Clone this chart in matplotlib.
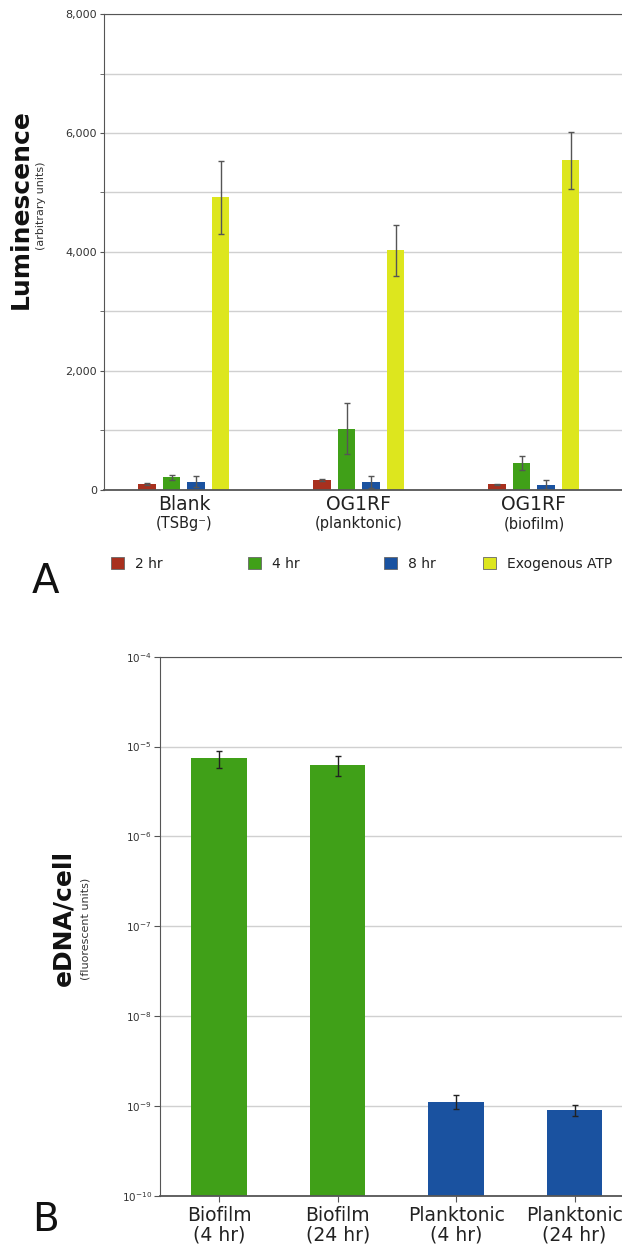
import matplotlib.pyplot as plt
from matplotlib.patches import Patch
from matplotlib.ticker import FixedLocator, FuncFormatter
import numpy as np

# panel A data
groups = ['Blank', 'OG1RF', 'OG1RF']
group_sub = ['(TSBg\u207b)', '(planktonic)', '(biofilm)']
series = ['2 hr', '4 hr', '8 hr', 'Exogenous ATP']
lum = {
    '2 hr': [95, 160, 85],
    '4 hr': [205, 1020, 445],
    '8 hr': [130, 120, 80],
    'Exogenous ATP': [4920, 4025, 5540],
}
lum_err = {
    '2 hr': [12, 15, 15],
    '4 hr': [40, 430, 120],
    '8 hr': [90, 100, 72],
    'Exogenous ATP': [615, 425, 475],
}

# panel B data
cats = ['Biofilm\n(4 hr)', 'Biofilm\n(24 hr)', 'Planktonic\n(4 hr)', 'Planktonic\n(24 hr)']
edna = [7.4e-6, 6.3e-6, 1.12e-9, 0.90e-9]
edna_err = [1.6e-6, 1.6e-6, 0.20e-9, 0.13e-9]

colors = {'2 hr': '#a8301e', '4 hr': '#40a018', '8 hr': '#1a52a0',
          'Exogenous ATP': '#dde61e'}
bcolors = ['#40a018', '#40a018', '#1a52a0', '#1a52a0']

W, H = 622, 1248
fig = plt.figure(figsize=(W / 100, H / 100), dpi=100)
plt.rcParams['font.family'] = 'DejaVu Sans'

def fx(px):
    return px / W

def fy(py):
    return 1 - py / H

spine_c = '#555555'
grid_c = '#d0d0d0'
text_c = '#333333'

# ---------- panel A ----------
axA = fig.add_axes([fx(104), fy(489.5), fx(640 - 104), (489.5 - 14.3) / H])
x = np.arange(len(groups))
offs = [-0.21, -0.07, 0.07, 0.21]
for s, o in zip(series, offs):
    axA.bar(x + o, lum[s], width=0.1, color=colors[s], zorder=2)
    axA.errorbar(x + o, lum[s], yerr=lum_err[s], fmt='none', ecolor='#555555',
                 elinewidth=1, capsize=2, capthick=1, zorder=3)

axA.set_xlim(-0.457, (640 - 184) / 175)
axA.set_ylim(0, 8000)
axA.yaxis.set_major_locator(FixedLocator([0, 2000, 4000, 6000, 8000]))
axA.yaxis.set_minor_locator(FixedLocator([1000, 3000, 5000, 7000]))
axA.yaxis.set_major_formatter(FuncFormatter(lambda v, p: '{:,}'.format(int(v))))
axA.grid(True, axis='y', which='both', color=grid_c, lw=1, zorder=0)
axA.set_axisbelow(True)
axA.tick_params(axis='y', which='both', length=3, color=spine_c,
                labelsize=8, labelcolor=text_c, pad=2)
axA.set_xticks(x)
axA.set_xticklabels(groups, fontsize=13.5, color='#222222')
axA.tick_params(axis='x', length=0, pad=4)
for i, sub in enumerate(group_sub):
    axA.text(x[i], -0.072, sub, transform=axA.get_xaxis_transform(),
             ha='center', va='center', fontsize=10.5, color='#222222')
axA.spines['right'].set_visible(False)
for sp in ['left', 'bottom', 'top']:
    axA.spines[sp].set_color(spine_c)
axA.spines['bottom'].set_linewidth(1.3)

fig.text(fx(21), fy(209), 'Luminescence', rotation=90, ha='center',
         va='center', fontsize=18, fontweight='bold', color='#111111')
fig.text(fx(41), fy(206), '(arbitrary units)', rotation=90, ha='center',
         va='center', fontsize=8, color=text_c)

# legend, one entry per slot
leg_x = [111, 248, 384, 483]
for s, lx in zip(series, leg_x):
    h = Patch(facecolor=colors[s], edgecolor='#666666', linewidth=0.6)
    fig.legend(handles=[h], labels=[s], loc='center left',
               bbox_to_anchor=(fx(lx), fy(564)), frameon=False, fontsize=10,
               handlelength=0.95, handleheight=0.95, handletextpad=0.8,
               borderpad=0, borderaxespad=0, labelcolor='#222222')

fig.text(fx(45), fy(582), 'A', ha='center', va='center', fontsize=29,
         color='#111111')

# ---------- panel B ----------
axB = fig.add_axes([fx(160), fy(1196), fx(640 - 160), (1196 - 656.7) / H])
xb = np.arange(len(cats))
axB.bar(xb, edna, width=0.47, color=bcolors, zorder=2)
axB.errorbar(xb, edna, yerr=edna_err, fmt='none', ecolor='#222222',
             elinewidth=1, capsize=2.5, capthick=1, zorder=3)
axB.set_yscale('log')
axB.set_ylim(1e-10, 1e-4)
axB.set_xlim(-0.5, (640 - 219) / 118.5)
axB.yaxis.set_major_locator(FixedLocator([10.0 ** k for k in range(-10, -3)]))
axB.yaxis.set_minor_locator(FixedLocator([]))
axB.yaxis.set_major_formatter(
    FuncFormatter(lambda v, p: r'$10^{%d}$' % int(round(np.log10(v)))))
axB.grid(True, axis='y', which='major', color=grid_c, lw=1, zorder=0)
axB.set_axisbelow(True)
axB.tick_params(axis='y', length=4, color=spine_c, labelsize=7.5,
                labelcolor=text_c, pad=2)
axB.set_xticks(xb)
axB.set_xticklabels(cats, fontsize=13.5, color='#222222', linespacing=1.05)
axB.tick_params(axis='x', length=4, color=spine_c, pad=3)
axB.spines['right'].set_visible(False)
for sp in ['left', 'bottom', 'top']:
    axB.spines[sp].set_color(spine_c)
axB.spines['bottom'].set_linewidth(1.3)

fig.text(fx(63), fy(918), 'eDNA/cell', rotation=90, ha='center',
         va='center', fontsize=18, fontweight='bold', color='#111111')
fig.text(fx(86), fy(929), '(fluorescent units)', rotation=90, ha='center',
         va='center', fontsize=8, color=text_c)

fig.text(fx(45), fy(1220), 'B', ha='center', va='center', fontsize=28,
         color='#111111')

fig.savefig('out.png', dpi=100)
